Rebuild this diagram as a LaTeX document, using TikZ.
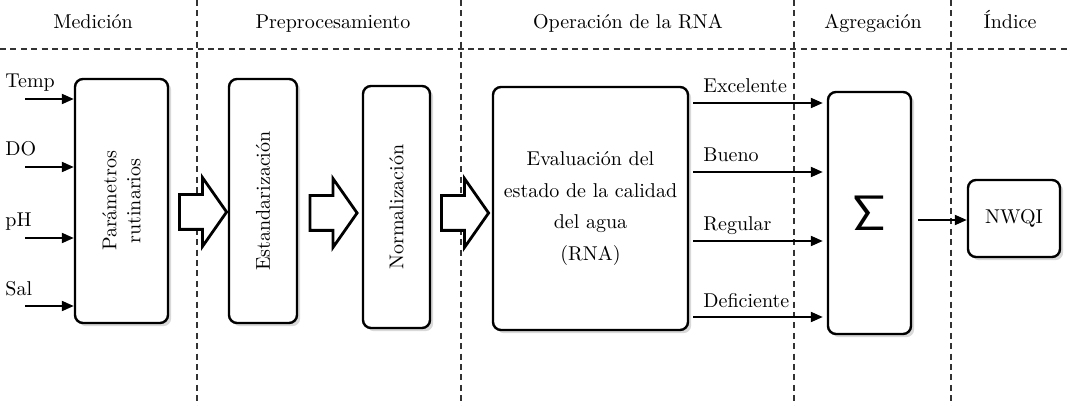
\documentclass[tikz,border=0pt]{standalone}
\usepackage{tikz}
\usetikzlibrary{shapes.arrows, arrows.meta, positioning, calc, shadows}

\begin{document}
\begin{tikzpicture}[
  x=0.5pt, y=-0.5pt,
  box/.style={draw, line width=1.2pt, rounded corners=4pt, fill=white, inner sep=2pt, align=center,
    drop shadow={opacity=0.3, shadow xshift=1.6pt, shadow yshift=-1.6pt}},
  flow/.style={line width=1pt, -{Triangle[length=6pt, width=5pt]}},
  fat/.style={single arrow, draw, line width=1.4pt, fill=white, inner xsep=0pt, inner ysep=8pt,
    minimum height=23.5pt, single arrow head extend=8.5pt, single arrow tip angle=110},
  sep/.style={dash pattern=on 3pt off 2.2pt, line width=0.6pt, black!80},
  head/.style={anchor=base},
  lab/.style={anchor=base west, inner sep=0pt},
]
  \useasboundingbox (0,0) rectangle (1070,406);

  % stage separators
  \draw[sep] (0,49) -- (1070,49);
  \foreach \x in {197, 461, 794, 951}
    \draw[sep] (\x,0) -- (\x,406);

  % stage titles
  \node[head] (tmed) at (93,29) {Medición};
  \node[head] (tpre) at (333,29) {Preprocesamiento};
  \node[head] (trna) at (628,29) {Operación de la RNA};
  \node[head] (tagr) at (873,29) {Agregación};
  \node[head] (tind) at (1010,29) {Índice};

  % blocks
  \node[box, minimum width=46.5pt, minimum height=122pt] (param) at (121.5,201) {};
  \node[rotate=90, align=center] (paramtxt) at (param) {Parámetros\\rutinarios};
  \node[box, minimum width=34pt, minimum height=122pt] (estand) at (263,201) {};
  \node[rotate=90] (estandtxt) at (estand) {Estandarización};
  \node[box, minimum width=33.5pt, minimum height=121pt] (norm) at (396.5,207) {};
  \node[rotate=90] (normtxt) at (norm) {Normalización};
  \node[box, minimum width=97.5pt, minimum height=121.5pt, font=\fontsize{10}{15.7}\selectfont]
    (rna) at (590.5,208.5) {Evaluación del\\estado de la calidad\\del agua\\(RNA)};
  \node[box, minimum width=41.5pt, minimum height=121pt] (sigma) at (869.5,213)
    {\fontsize{32}{34}\selectfont$\mathsf{\Sigma}$};
  \node[box, minimum width=46pt, minimum height=38.5pt] (nwqi) at (1014,218.5) {NWQI};

  % hollow arrows between stages
  \node[fat] (fa1) at (197,212) {};
  \node[fat] (fa2) at (327.5,213) {};
  \node[fat] (fa3) at (459,213) {};

  % inputs
  \foreach \y/\name in {99/Temp, 167/DO, 238/pH, 306/Sal} {
    \coordinate (in\name) at (25,\y);
    \node[lab] (l\name) at (5,\y-11) {\name};
    \draw[flow] (in\name) -- (in\name -| param.west);
  }

  % outputs of the network
  \foreach \y/\name in {103/Excelente, 172/Bueno, 241/Regular, 317/Deficiente} {
    \coordinate (out\name) at (rna.east |- 0,\y);
    \node[lab] (l\name) at (703,\y-10) {\name};
    \draw[flow, shorten >=2pt] ($(out\name)+(4,0)$) -- (out\name -| sigma.west);
  }

  \draw[flow] ($(sigma.east |- nwqi.west)+(6,1.5)$) -- ($(nwqi.west)+(0,1.5)$);
\end{tikzpicture}
\end{document}
